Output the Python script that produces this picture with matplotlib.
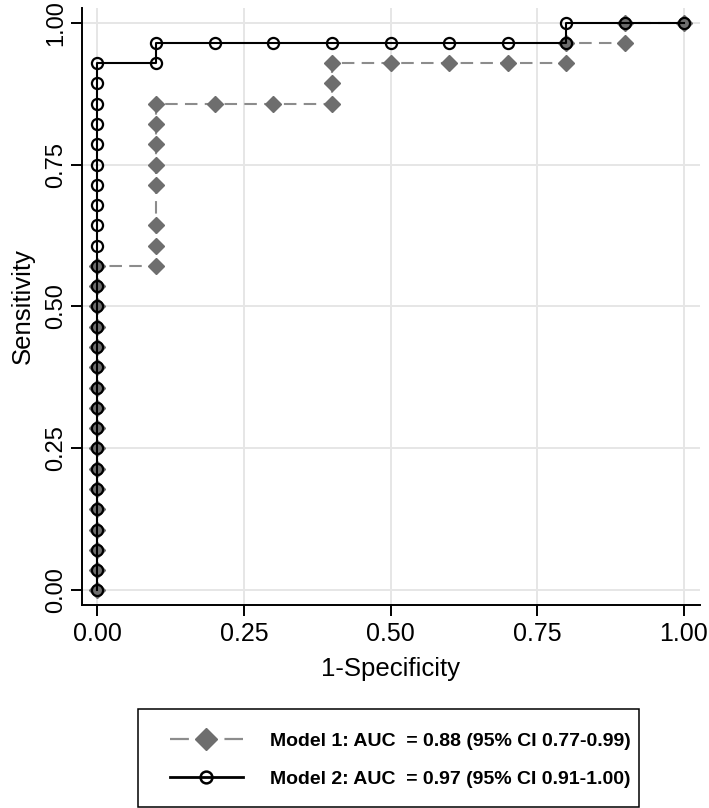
import matplotlib.pyplot as plt
from matplotlib.lines import Line2D
from matplotlib.patches import Rectangle

# ROC points, model 1 (diamonds, dashed)
m1_fpr = [0.0, 0.0, 0.0, 0.0, 0.0, 0.0, 0.0, 0.0, 0.0, 0.0, 0.0, 0.0, 0.0, 0.0, 0.0, 0.0, 0.0,
          0.1, 0.1, 0.1, 0.1, 0.1, 0.1, 0.1, 0.1,
          0.2, 0.3, 0.4, 0.4, 0.4, 0.5, 0.6, 0.7, 0.8, 0.8, 0.9, 0.9, 1.0]
m1_sens = [0.0, 0.036, 0.071, 0.107, 0.143, 0.179, 0.214, 0.25, 0.286, 0.321, 0.357, 0.393,
           0.429, 0.464, 0.5, 0.536, 0.571,
           0.571, 0.607, 0.643, 0.714, 0.75, 0.786, 0.821, 0.857,
           0.857, 0.857, 0.857, 0.893, 0.929, 0.929, 0.929, 0.929, 0.929, 0.964, 0.964, 1.0, 1.0]

# ROC points, model 2 (hollow circles, solid)
m2_fpr = [0.0, 0.0, 0.0, 0.0, 0.0, 0.0, 0.0, 0.0, 0.0, 0.0, 0.0, 0.0, 0.0, 0.0, 0.0, 0.0, 0.0,
          0.0, 0.0, 0.0, 0.0, 0.0, 0.0, 0.0, 0.0, 0.0, 0.0,
          0.1, 0.1, 0.2, 0.3, 0.4, 0.5, 0.6, 0.7, 0.8, 0.8, 0.9, 1.0]
m2_sens = [0.0, 0.036, 0.071, 0.107, 0.143, 0.179, 0.214, 0.25, 0.286, 0.321, 0.357, 0.393,
           0.429, 0.464, 0.5, 0.536, 0.571, 0.607, 0.643, 0.679, 0.714, 0.75, 0.786, 0.821,
           0.857, 0.893, 0.929,
           0.929, 0.964, 0.964, 0.964, 0.964, 0.964, 0.964, 0.964, 0.964, 1.0, 1.0, 1.0]

ticks = [0.0, 0.25, 0.5, 0.75, 1.0]
tick_labels = ["0.00", "0.25", "0.50", "0.75", "1.00"]
labels = ["Model 1: AUC  = 0.88 (95% CI 0.77-0.99)",
          "Model 2: AUC  = 0.97 (95% CI 0.91-1.00)"]

plt.rcParams['font.family'] = ['Liberation Sans', 'DejaVu Sans']

fig = plt.figure(figsize=(7.09, 8.08), dpi=100)
ax = fig.add_axes([0.1157, 0.2512, 0.871, 0.739])

ax.plot(m1_fpr, m1_sens, color='#8c8c8c', linewidth=1.5, dashes=(6, 3.5),
        marker='D', markersize=8.5, markerfacecolor='#6e6e6e',
        markeredgecolor='#6e6e6e', zorder=3)
ax.plot(m2_fpr, m2_sens, color='black', linewidth=1.5,
        marker='o', markersize=8, markerfacecolor='none',
        markeredgecolor='black', markeredgewidth=1.6, zorder=4)

ax.set_xlim(-0.026, 1.027)
ax.set_ylim(-0.026, 1.026)
ax.set_xticks(ticks)
ax.set_xticklabels(tick_labels)
ax.set_yticks(ticks)
ax.set_yticklabels(tick_labels, rotation=90, va='center')
ax.grid(True, color='#e6e6e6', linewidth=1.4)
ax.set_axisbelow(True)

for side in ['top', 'right']:
    ax.spines[side].set_visible(False)
for side in ['left', 'bottom']:
    ax.spines[side].set_linewidth(1.4)
ax.tick_params(length=8, width=1.4, color='black')
ax.tick_params(axis='x', labelsize=18, pad=4)
ax.tick_params(axis='y', labelsize=17, pad=3)

ax.set_xlabel("1-Specificity", fontsize=18.5, labelpad=8)
ax.set_ylabel("Sensitivity", fontsize=18.5, labelpad=7)

# legend: frame drawn separately so it can sit tight against the text
handles = [
    Line2D([], [], color='#8c8c8c', linewidth=1.6, dashes=(8.5, 16), marker='D',
           markersize=11.5, markerfacecolor='#6e6e6e', markeredgecolor='#6e6e6e'),
    Line2D([], [], color='black', linewidth=2.0, marker='o', markersize=8.5,
           markerfacecolor='none', markeredgecolor='black', markeredgewidth=1.8),
]
leg = fig.legend(handles, labels, loc='center left', bbox_to_anchor=(0.2398, 0.0594),
                 frameon=False, handlelength=3.75, handletextpad=1.4, borderpad=0,
                 borderaxespad=0, labelspacing=1.05,
                 prop={'weight': 'bold', 'size': 14})
fig.patches.append(Rectangle((0.1946, 0.0012), 0.7066, 0.1213, transform=fig.transFigure,
                             fill=False, edgecolor='black', linewidth=1.1))

fig.savefig("out.png", dpi=100)
